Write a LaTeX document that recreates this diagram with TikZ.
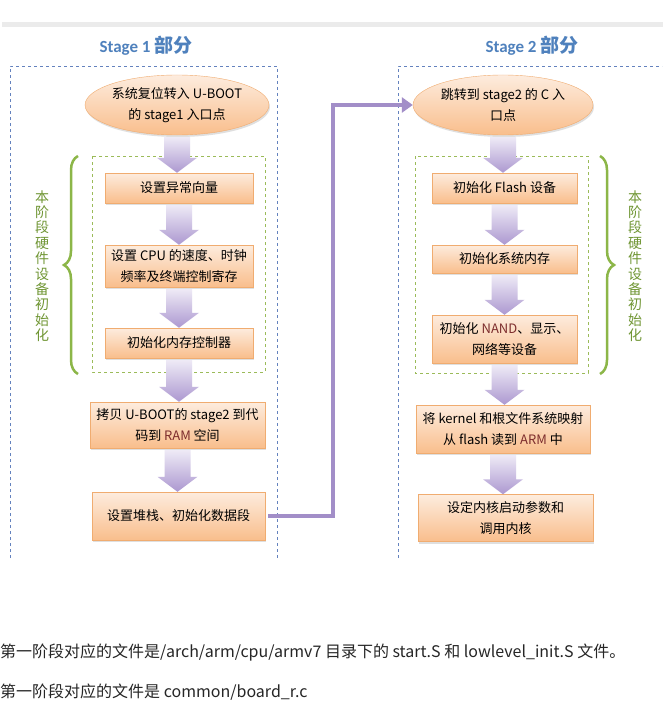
\documentclass[tikz,border=0pt]{standalone}
\usepackage{fontspec}
\setmainfont{Carlito}
\newfontfamily\cjk{Noto Sans CJK SC}
\usetikzlibrary{arrows.meta,shadows,shapes.geometric,decorations.pathreplacing,calc}

\definecolor{hdrblue}{RGB}{79,129,189}
\definecolor{frameblue}{RGB}{100,130,190}
\definecolor{framegreen}{RGB}{155,187,89}
\definecolor{bracegreen}{RGB}{140,182,72}
\definecolor{textgreen}{RGB}{112,150,52}
\definecolor{boxtop}{RGB}{253,236,222}
\definecolor{boxbot}{RGB}{249,190,140}
\definecolor{boxline}{RGB}{240,172,112}
\definecolor{flowpurple}{RGB}{162,142,200}
\definecolor{arrtop}{RGB}{238,234,246}
\definecolor{arrbot}{RGB}{172,152,208}
\definecolor{enred}{RGB}{125,45,45}

\tikzset{
  stepbox/.style={draw=boxline, top color=boxtop, bottom color=boxbot, inner sep=0pt, align=center,
    font=\cjk\fontsize{13}{21}\selectfont,
    drop shadow={opacity=0.25, shadow xshift=1pt, shadow yshift=-2pt}},
  entry/.style={stepbox, ellipse, minimum width=180pt, minimum height=60pt},
  header/.style={text=hdrblue, font=\bfseries\fontsize{17}{20}\selectfont},
  sidetext/.style={text=textgreen, align=center, font=\cjk\fontsize{14}{15.4}\selectfont},
  hwbrace/.style={bracegreen, line width=2.5pt, decorate, decoration={brace, amplitude=14pt}},
  flowline/.style={flowpurple, line width=4.5pt, -{Triangle[length=11pt,width=15pt]}, shorten <=3pt},
  notetext/.style={anchor=west, inner sep=0pt, text=black!85, font=\cjk\fontsize{16}{18}\selectfont}
}

\newcommand{\en}[1]{\textcolor{enred}{#1}}
\newcommand{\blockarrow}[2]{%
  \shade[top color=arrtop, bottom color=arrbot] let \p1=($(#1.south)+(0,2)$), \p2=(#2.north) in
    (\x1-13pt,\y1) -- (\x1+13pt,\y1) -- (\x1+13pt,\y2+15pt) -- (\x1+20pt,\y2+15pt)
    -- (\x1,\y2) -- (\x1-20pt,\y2+15pt) -- (\x1-13pt,\y2+15pt) -- cycle;}

\begin{document}
\begin{tikzpicture}[x=1pt,y=-1pt]
    \useasboundingbox[fill=white] (0,0) rectangle (669,706);
    \fill[black!8] (2,22) rectangle (663,27);

    \node[header] (h1) at (146,46) {Stage 1 {\cjk\fontsize{19}{20}\selectfont 部分}};
    \node[header] (h2) at (532,46) {Stage 2 {\cjk\fontsize{19}{20}\selectfont 部分}};

    \draw[frameblue, dashed] (10,558) -- (10,66) -- (277,66) -- (277,558);
    \draw[frameblue, dashed] (398,558) -- (398,66) -- (662,66);
    \draw[framegreen, dashed] (92,156) rectangle (265,372);
    \draw[framegreen, dashed] (415,156) rectangle (588,373);

    \node[entry] (l0) at (177,105) {系统复位转入 U-BOOT\\的 stage1 入口点};
    \node[stepbox, minimum width=148pt, minimum height=30pt] (l1) at (179,188) {设置异常向量};
    \node[stepbox, minimum width=148pt, minimum height=42pt] (l2) at (179,266) {设置 CPU 的速度、时钟\\频率及终端控制寄存};
    \node[stepbox, minimum width=148pt, minimum height=30pt] (l3) at (179,343) {初始化内存控制器};
    \node[stepbox, minimum width=175pt, minimum height=46pt] (l4) at (177.5,425) {拷贝 U-BOOT的 stage2 到代\\码到 \en{RAM} 空间};
    \node[stepbox, minimum width=173pt, minimum height=48pt] (l5) at (178.5,516) {设置堆栈、初始化数据段};

    \node[entry] (r0) at (503,105) {跳转到 stage2 的 C 入\\口点};
    \node[stepbox, minimum width=145pt, minimum height=30pt] (r1) at (504.5,188) {初始化 Flash 设备};
    \node[stepbox, minimum width=145pt, minimum height=28pt] (r2) at (504.5,259) {初始化系统内存};
    \node[stepbox, minimum width=145pt, minimum height=48pt] (r3) at (504.5,339) {初始化 \en{NAND}、显示、\\网络等设备};
    \node[stepbox, minimum width=174pt, minimum height=48pt] (r4) at (503,429) {将 kernel 和根文件系统映射\\从 flash 读到 \en{ARM} 中};
    \node[stepbox, minimum width=175pt, minimum height=47pt] (r5) at (505.5,518) {设定内核启动参数和\\调用内核};

    \blockarrow{l0}{l1}
    \blockarrow{l1}{l2}
    \blockarrow{l2}{l3}
    \blockarrow{l3}{l4}
    \blockarrow{l4}{l5}
    \blockarrow{r0}{r1}
    \blockarrow{r1}{r2}
    \blockarrow{r2}{r3}
    \blockarrow{r3}{r4}
    \blockarrow{r4}{r5}

    \draw[hwbrace] (78,374) -- (78,156);
    \draw[hwbrace] (600,156) -- (600,374);
    \node[sidetext] (lnote) at (42,266) {本\\阶\\段\\硬\\件\\设\\备\\初\\始\\化};
    \node[sidetext] (rnote) at (635,266) {本\\阶\\段\\硬\\件\\设\\备\\初\\始\\化};

    \coordinate (turn) at (333,516);
    \draw[flowline] (l5.east) -- (l5.east -| turn) |- (r0.west);

    \node[notetext] (note1) at (0,653) {第一阶段对应的文件是/arch/arm/cpu/armv7 目录下的 start.S 和 lowlevel\_init.S 文件。};
    \node[notetext] (note2) at (0,692) {第一阶段对应的文件是 common/board\_r.c};
\end{tikzpicture}
\end{document}
